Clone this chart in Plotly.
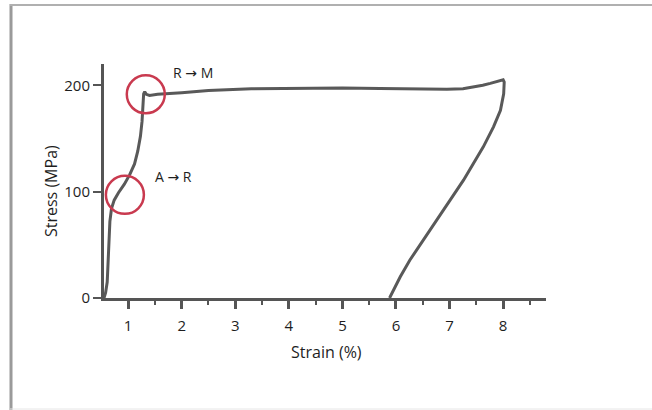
import plotly.graph_objects as go

# Stress-strain curve (strain %, stress MPa)
strain = [0.55, 0.58, 0.61, 0.63, 0.645, 0.66, 0.69, 0.74, 0.82, 0.93, 1.03, 1.12, 1.18, 1.23,
          1.26, 1.28, 1.29, 1.31, 1.34, 1.40, 1.55, 2.0, 2.5, 3.3, 4.2, 5.0, 5.7, 6.4, 6.95,
          7.25, 7.44, 7.62, 7.76, 7.88, 7.96, 8.0,
          8.02, 8.01, 7.95, 7.82, 7.63, 7.45, 7.26, 7.01, 6.76, 6.51, 6.26, 6.08, 5.92, 5.88]
stress = [0, 5, 15, 35, 55, 72, 84, 92, 99, 107, 116, 126, 138, 152,
          166, 182, 192, 194, 191.5, 190.5, 191.5, 193, 195, 196.8, 197.5, 197.5, 197, 196.5, 196.2,
          196.8, 198.2, 200, 201.8, 203.6, 205, 205.2,
          203, 192, 176.5, 160.9, 142.1, 126.5, 110.8, 92.0, 73.2, 54.5, 35.7, 20.0, 2.8, 0]

# Transition markers
marker_strain = [1.33, 0.94]
marker_stress = [191.5, 97]
label_text = ["R → M", "A → R"]
label_strain = [2.22, 1.85]
label_stress = [212, 114]

x_ticks = [1, 2, 3, 4, 5, 6, 7, 8]
y_ticks = [0, 100, 200]

AX = "#555555"
FONT = "Open Sans"
ARROW_FONT = "Open Sans, DejaVu Sans"
TXT = "#1e1e1e"

fig = go.Figure()
fig.add_trace(go.Scatter(x=strain, y=stress, mode="lines",
                         line=dict(color="#595959", width=3), hoverinfo="skip",
                         showlegend=False))

shapes = []
for cx, cy in zip(marker_strain, marker_stress):
    shapes.append(dict(type="circle", xref="x", yref="y",
                       xsizemode="pixel", ysizemode="pixel",
                       xanchor=cx, yanchor=cy, x0=-19, x1=19, y0=-19, y1=19,
                       line=dict(color="#c93a4f", width=2.5)))
# window frame (paper coords; plot area is x 104..546 px, y 64..298 px)
PW, PH = 442.0, 234.0
def px(x):
    return (x - 104) / PW
def py(y):
    return (298 - y) / PH
shapes.append(dict(type="line", xref="paper", yref="paper", x0=px(11), x1=px(11),
                   y0=py(412), y1=py(4), line=dict(color="#9a9a9a", width=3)))
shapes.append(dict(type="line", xref="paper", yref="paper", x0=px(10), x1=px(660),
                   y0=py(5), y1=py(5), line=dict(color="#b0b0b0", width=2)))
shapes.append(dict(type="line", xref="paper", yref="paper", x0=px(10), x1=px(660),
                   y0=py(409), y1=py(409), line=dict(color="#e6e6e6", width=1)))

annotations = []
for t, x, y in zip(label_text, label_strain, label_stress):
    annotations.append(dict(text=t, x=x, y=y, xref="x", yref="y", showarrow=False,
                            font=dict(family=ARROW_FONT, size=14, color=TXT)))
annotations.append(dict(text="Stress (MPa)", x=px(38), y=py(191), xref="paper", yref="paper",
                        textangle=-90, showarrow=False,
                        font=dict(family=FONT, size=16, color=TXT)))
annotations.append(dict(text="Strain (%)", x=px(326), y=py(365), xref="paper", yref="paper",
                        showarrow=False, font=dict(family=FONT, size=16, color=TXT)))

fig.update_layout(
    width=652, height=410,
    margin=dict(l=104, r=106, t=64, b=112),
    paper_bgcolor="white", plot_bgcolor="white",
    shapes=shapes, annotations=annotations,
    xaxis=dict(range=[0.55, 8.8], showgrid=False, zeroline=False,
               showline=True, linecolor=AX, linewidth=3,
               tickmode="array", tickvals=x_ticks, ticktext=[str(v) for v in x_ticks],
               ticks="outside", ticklen=8, tickwidth=3, tickcolor=AX,
               ticklabelstandoff=4,
               minor=dict(tickmode="linear", tick0=0.5, dtick=1, ticks="outside",
                          ticklen=4, tickwidth=2, tickcolor=AX),
               tickfont=dict(family=FONT, size=15, color=TXT)),
    yaxis=dict(range=[0, 220], showgrid=False, zeroline=False,
               showline=True, linecolor=AX, linewidth=3,
               tickmode="array", tickvals=y_ticks, ticktext=[str(v) for v in y_ticks],
               ticks="outside", ticklen=8, tickwidth=2, tickcolor=AX,
               tickfont=dict(family=FONT, size=15, color=TXT)),
)

fig.write_html("out.html", config={"displayModeBar": False},
               post_script="document.body.style.margin='0px';")
